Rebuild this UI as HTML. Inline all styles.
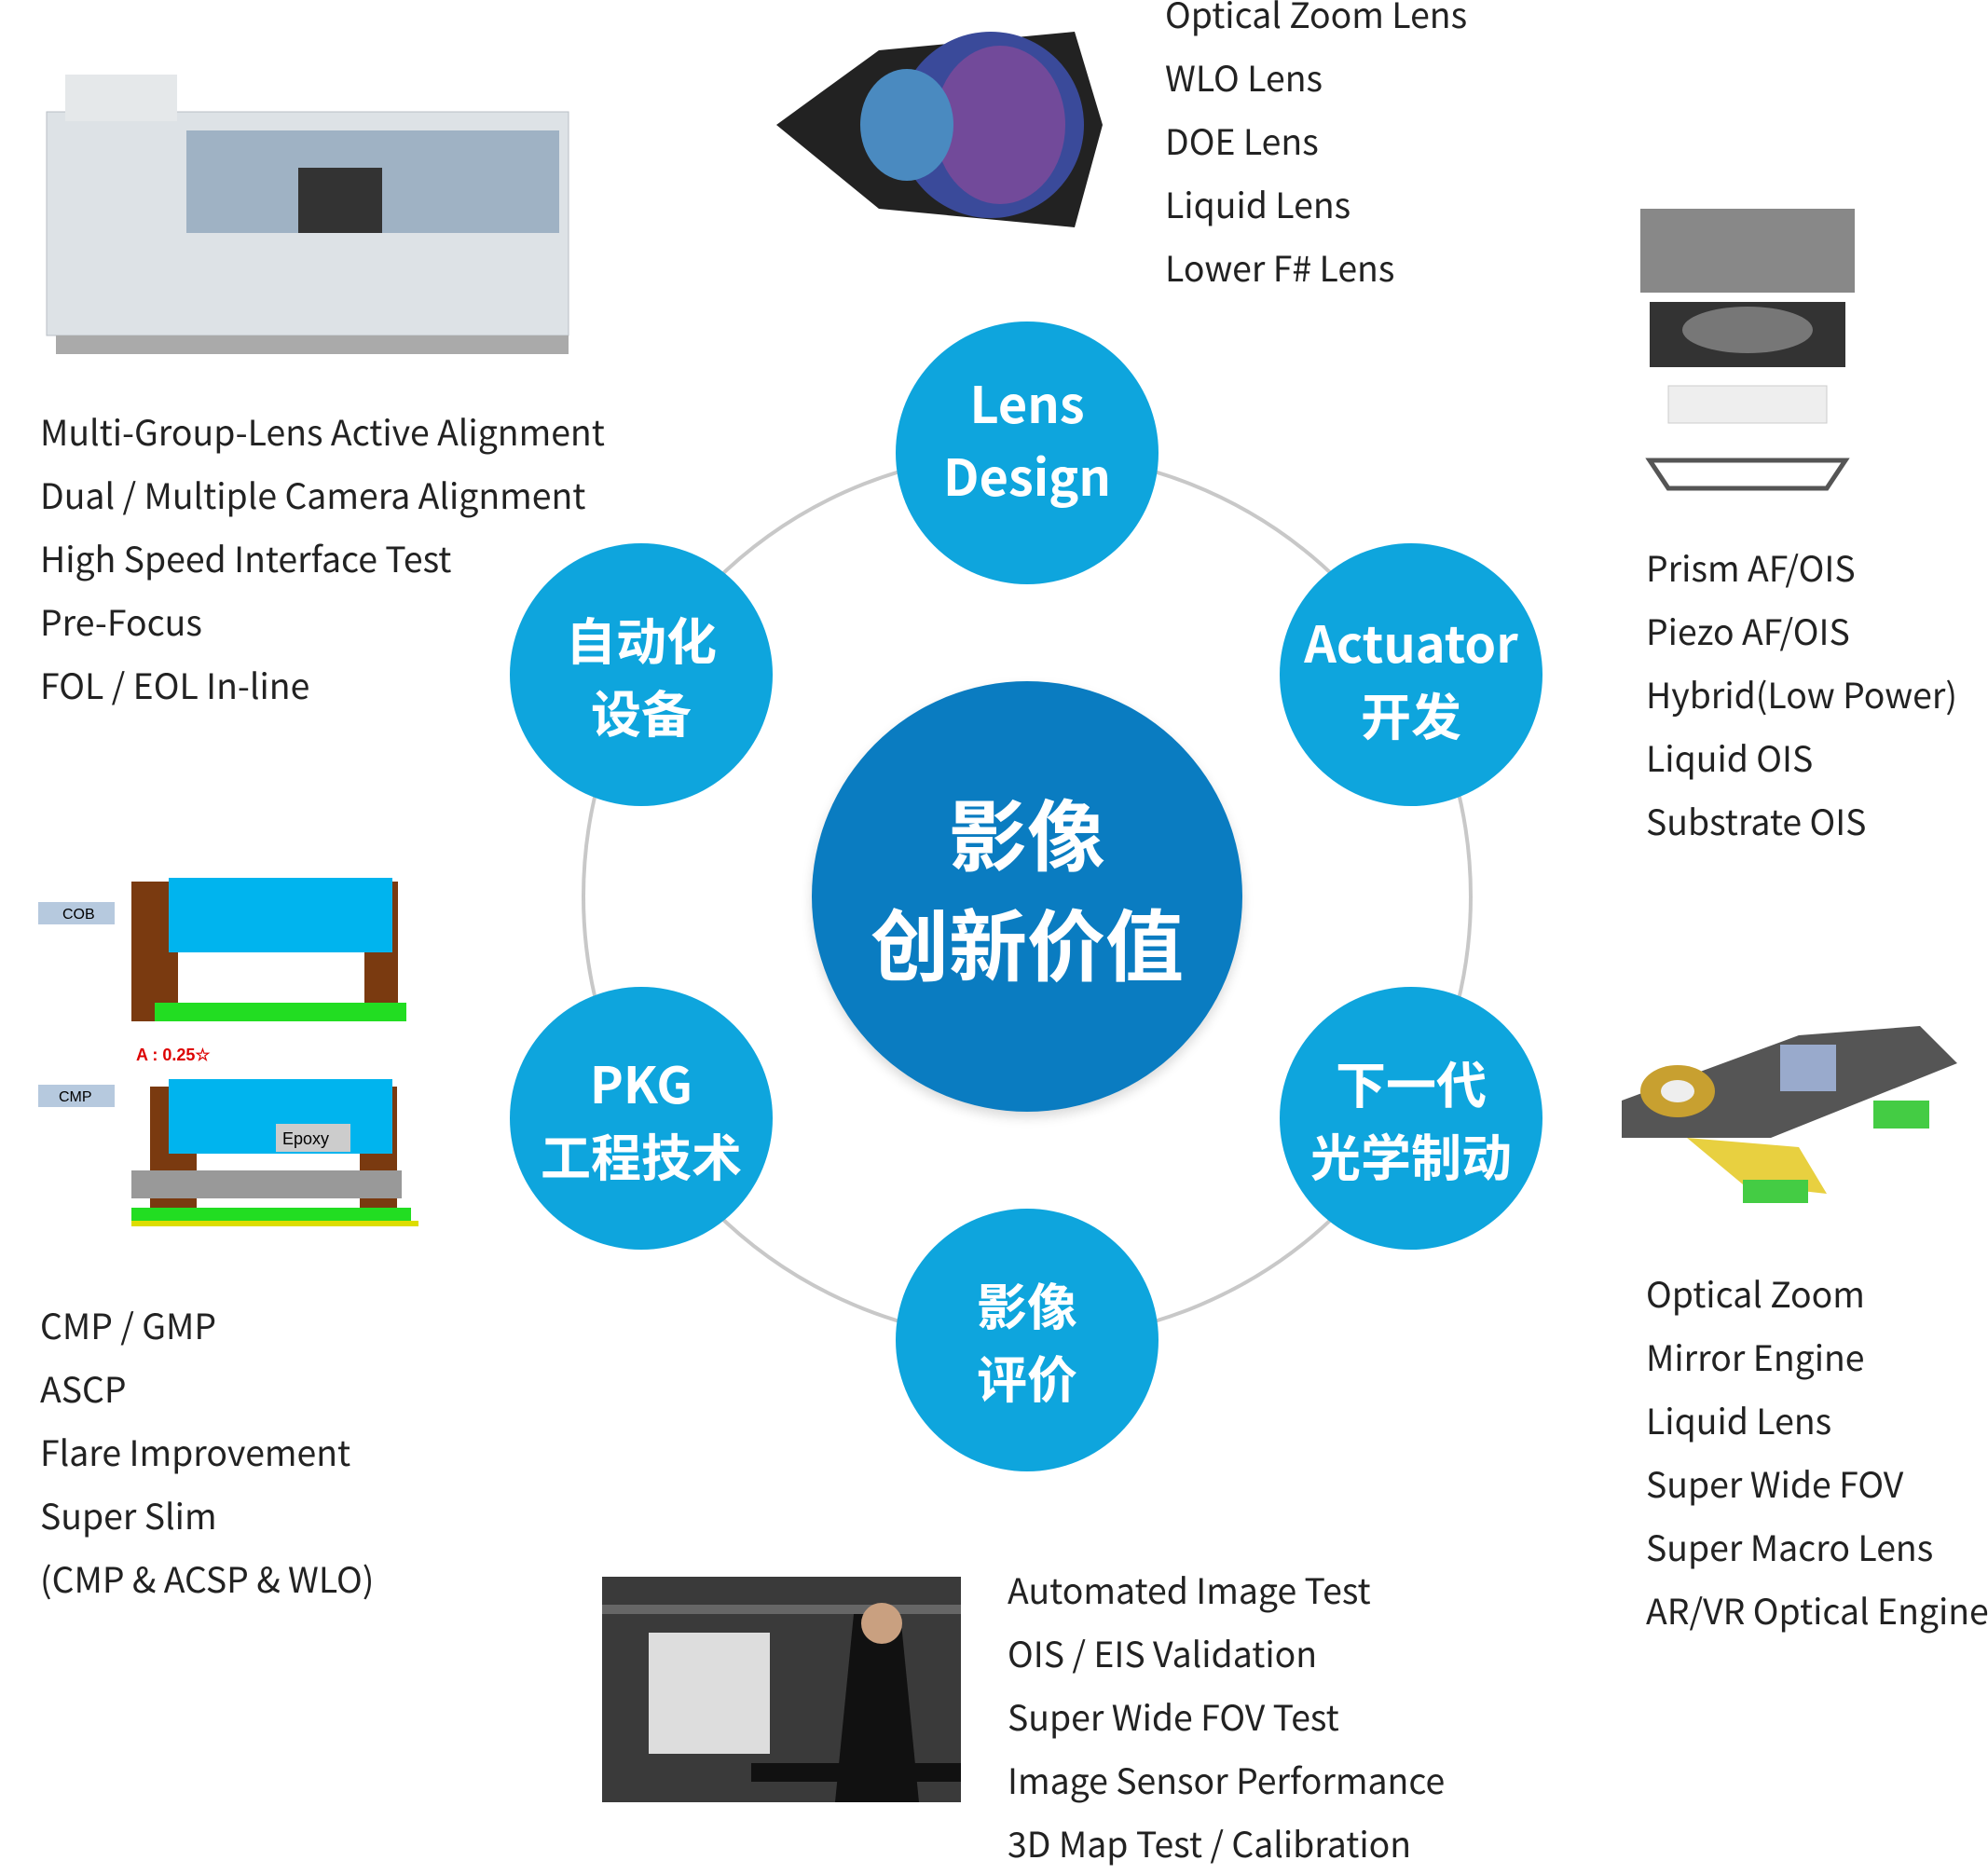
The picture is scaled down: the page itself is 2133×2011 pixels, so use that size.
<!DOCTYPE html>
<html><head><meta charset="utf-8"><style>
html,body{margin:0;padding:0;background:#fff;}
body{width:2133px;height:2001px;position:relative;overflow:hidden;font-family:"Noto Sans CJK SC","Liberation Sans",sans-serif;}
.c{position:absolute;border-radius:50%;background:#0ea5dd;color:#fff;font-weight:bold;display:flex;align-items:center;justify-content:center;text-align:center;flex-direction:column;}
.s{width:282px;height:282px;font-size:54px;line-height:78px;}
.l{position:absolute;color:#222;font-size:37.4px;line-height:68px;white-space:nowrap;}
.img{position:absolute;}
</style></head><body>
<svg width="2133" height="2001" style="position:absolute;left:0;top:0">
<circle cx="1102" cy="962" r="476" fill="none" stroke="#c8c8c8" stroke-width="4"/>
</svg>
<div class="c" style="left:871px;top:731px;width:462px;height:462px;background:#0a7cc1;font-size:84px;line-height:118px;box-shadow:0 6px 12px rgba(0,0,0,0.15)"><div style="margin-top:-20px">影像</div><div>创新价值</div></div>
<div class="c s" style="left:961px;top:345px"><div style="margin-top:-32px">Lens<br>Design</div></div>
<div class="c s" style="left:547px;top:583px">自动化<br>设备</div>
<div class="c s" style="left:1373px;top:583px"><div style="margin-top:6px">Actuator<br>开发</div></div>
<div class="c s" style="left:547px;top:1059px">PKG<br>工程技术</div>
<div class="c s" style="left:1373px;top:1059px">下一代<br>光学制动</div>
<div class="c s" style="left:961px;top:1297px">影像<br>评价</div>

<div class="l" style="left:43px;top:428px">Multi-Group-Lens Active Alignment<br>Dual / Multiple Camera Alignment<br>High Speed Interface Test<br>Pre-Focus<br>FOL / EOL In-line</div>
<div class="l" style="left:1250px;top:-20px">Optical Zoom Lens<br>WLO Lens<br>DOE Lens<br>Liquid Lens<br>Lower F# Lens</div>
<div class="l" style="left:1766px;top:574px">Prism AF/OIS<br>Piezo AF/OIS<br>Hybrid(Low Power)<br>Liquid OIS<br>Substrate OIS</div>
<div class="l" style="left:43px;top:1387px">CMP / GMP<br>ASCP<br>Flare Improvement<br>Super Slim<br>(CMP &amp; ACSP &amp; WLO)</div>
<div class="l" style="left:1766px;top:1353px">Optical Zoom<br>Mirror Engine<br>Liquid Lens<br>Super Wide FOV<br>Super Macro Lens<br>AR/VR Optical Engine</div>
<div class="l" style="left:1081px;top:1671px">Automated Image Test<br>OIS / EIS Validation<br>Super Wide FOV Test<br>Image Sensor Performance<br>3D Map Test / Calibration</div>

<svg class="img" style="left:0;top:20px" width="626" height="390">
<rect x="50" y="100" width="560" height="240" fill="#dde2e6" stroke="#b8bec4"/>
<rect x="70" y="60" width="120" height="50" fill="#e5e8ea"/>
<rect x="200" y="120" width="400" height="110" fill="#9fb2c4"/>
<rect x="320" y="160" width="90" height="70" fill="#333"/>
<rect x="60" y="340" width="550" height="20" fill="#aaa"/>
</svg>
<svg class="img" style="left:823px;top:14px" width="370" height="244">
<path d="M10 120 L120 40 L330 20 L360 120 L330 230 L120 210 Z" fill="#222"/>
<ellipse cx="240" cy="120" rx="100" ry="100" fill="#3a4a9a"/>
<ellipse cx="250" cy="120" rx="70" ry="85" fill="#8a4a9a" opacity="0.7"/>
<ellipse cx="150" cy="120" rx="50" ry="60" fill="#4a8ac0"/>
</svg>
<svg class="img" style="left:1730px;top:204px" width="294" height="340">
<rect x="30" y="20" width="230" height="90" fill="#888"/>
<rect x="40" y="120" width="210" height="70" fill="#333"/>
<ellipse cx="145" cy="150" rx="70" ry="25" fill="#777"/>
<rect x="60" y="210" width="170" height="40" fill="#eee" stroke="#ccc"/>
<path d="M40 290 L250 290 L230 320 L60 320 Z" fill="none" stroke="#555" stroke-width="5"/>
</svg>
<svg class="img" style="left:41px;top:936px" width="408" height="404">
<rect x="0" y="32" width="82" height="24" fill="#b6c9de"/><text x="26" y="50" font-size="16" font-family="Liberation Sans">COB</text>
<rect x="100" y="10" width="50" height="150" fill="#7a3a10"/><rect x="350" y="10" width="36" height="150" fill="#7a3a10"/>
<rect x="140" y="6" width="240" height="80" fill="#00b4ee"/>
<rect x="125" y="140" width="270" height="20" fill="#22dd22"/>
<text x="105" y="202" font-size="18" fill="#d00" font-weight="bold" font-family="Liberation Sans">A : 0.25☆</text>
<rect x="0" y="228" width="82" height="24" fill="#b6c9de"/><text x="22" y="246" font-size="16" font-family="Liberation Sans">CMP</text>
<rect x="120" y="230" width="50" height="130" fill="#7a3a10"/><rect x="345" y="230" width="40" height="130" fill="#7a3a10"/>
<rect x="140" y="222" width="240" height="80" fill="#00b4ee"/>
<rect x="255" y="270" width="80" height="30" fill="#ccc"/><text x="262" y="292" font-size="18" font-family="Liberation Sans">Epoxy</text>
<rect x="100" y="320" width="290" height="30" fill="#999"/>
<rect x="100" y="360" width="300" height="14" fill="#22dd22"/><rect x="100" y="374" width="320" height="6" fill="#dddd00"/>
</svg>
<svg class="img" style="left:1730px;top:1081px" width="381" height="220">
<path d="M10 100 L200 30 L330 20 L370 60 L170 140 L10 140 Z" fill="#555"/>
<ellipse cx="70" cy="90" rx="40" ry="28" fill="#c8a030"/><ellipse cx="70" cy="90" rx="18" ry="12" fill="#eee"/>
<rect x="180" y="40" width="60" height="50" fill="#9ac"/>
<path d="M80 140 L200 150 L230 200 L140 190 Z" fill="#e8d040"/>
<rect x="140" y="185" width="70" height="25" fill="#4c4"/><rect x="280" y="100" width="60" height="30" fill="#4c4"/>
</svg>
<svg class="img" style="left:646px;top:1692px" width="385" height="242">
<rect width="385" height="242" fill="#3a3a3a"/>
<rect x="50" y="60" width="130" height="130" fill="#ddd"/>
<rect x="0" y="30" width="385" height="10" fill="#666"/>
<path d="M270 40 L320 40 L340 242 L250 242 Z" fill="#111"/>
<circle cx="300" cy="50" r="22" fill="#c9a080"/>
<rect x="160" y="200" width="225" height="20" fill="#111"/>
</svg>
</body></html>
